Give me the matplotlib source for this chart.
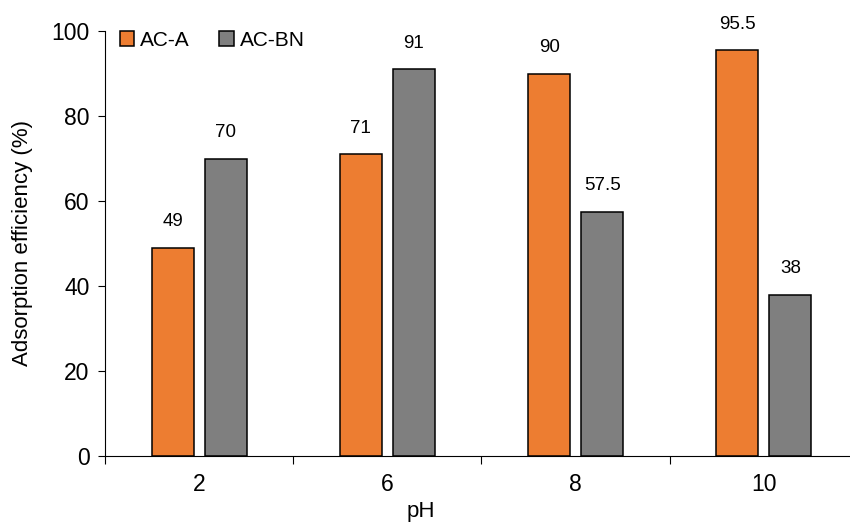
import numpy as np
import matplotlib
matplotlib.use("Agg")
import matplotlib.pyplot as plt
from matplotlib.ticker import FixedLocator, NullFormatter

plt.rcParams['font.family'] = ['Liberation Sans', 'DejaVu Sans']

ph_labels = ["2", "6", "8", "10"]
ac_a = [49, 71, 90, 95.5]
ac_bn = [70, 91, 57.5, 38]
ac_a_text = ["49", "71", "90", "95.5"]
ac_bn_text = ["70", "91", "57.5", "38"]

orange = "#ED7D31"
grey = "#7F7F7F"

fig = plt.figure(figsize=(8.5, 5.24), dpi=100)
ax = fig.add_axes([105/850, 68/524, 753/850, 425/524])

x = np.arange(len(ph_labels))
w = 0.223
off = 0.141
b1 = ax.bar(x - off, ac_a, w, color=orange, edgecolor="black", linewidth=1.1, label="AC-A")
b2 = ax.bar(x + off, ac_bn, w, color=grey, edgecolor="black", linewidth=1.1, label="AC-BN")

for bars, texts in [(b1, ac_a_text), (b2, ac_bn_text)]:
    for bar, t in zip(bars, texts):
        ax.annotate(t, (bar.get_x() + bar.get_width() / 2, bar.get_height()),
                    xytext=(0, 12.5), textcoords="offset points",
                    ha="center", va="bottom", fontsize=13.5)

ax.set_xlim(-0.5, 3.5)
ax.set_ylim(0, 100)
ax.set_yticks([0, 20, 40, 60, 80, 100])
ax.tick_params(axis="y", labelsize=16.5, length=5, width=0.8, direction="out", pad=6)

# boundaries get the tick marks, centers get the labels
ax.xaxis.set_major_locator(FixedLocator(np.arange(-0.5, 4, 1.0)))
ax.xaxis.set_major_formatter(NullFormatter())
ax.xaxis.set_minor_locator(FixedLocator(x))
ax.set_xticklabels(ph_labels, minor=True)
ax.tick_params(axis="x", which="major", length=6, width=0.8, direction="out")
ax.tick_params(axis="x", which="minor", length=0, labelsize=16.5, pad=12)

for s in ["top", "right"]:
    ax.spines[s].set_visible(False)
for s in ["left", "bottom"]:
    ax.spines[s].set_linewidth(0.8)

ax.set_ylabel("Adsorption efficiency (%)", fontsize=16)
ax.yaxis.set_label_coords(-0.096, 0.5)
ax.set_xlabel("pH", fontsize=16)
ax.xaxis.set_label_coords(0.42, -0.106)

ax.legend(loc="upper left", bbox_to_anchor=(0.0, 1.035), ncol=2, frameon=False,
          fontsize=15, handlelength=0.7, handleheight=0.7, handletextpad=0.3,
          columnspacing=1.4, borderaxespad=0.3)

fig.savefig("out.png", dpi=100)
